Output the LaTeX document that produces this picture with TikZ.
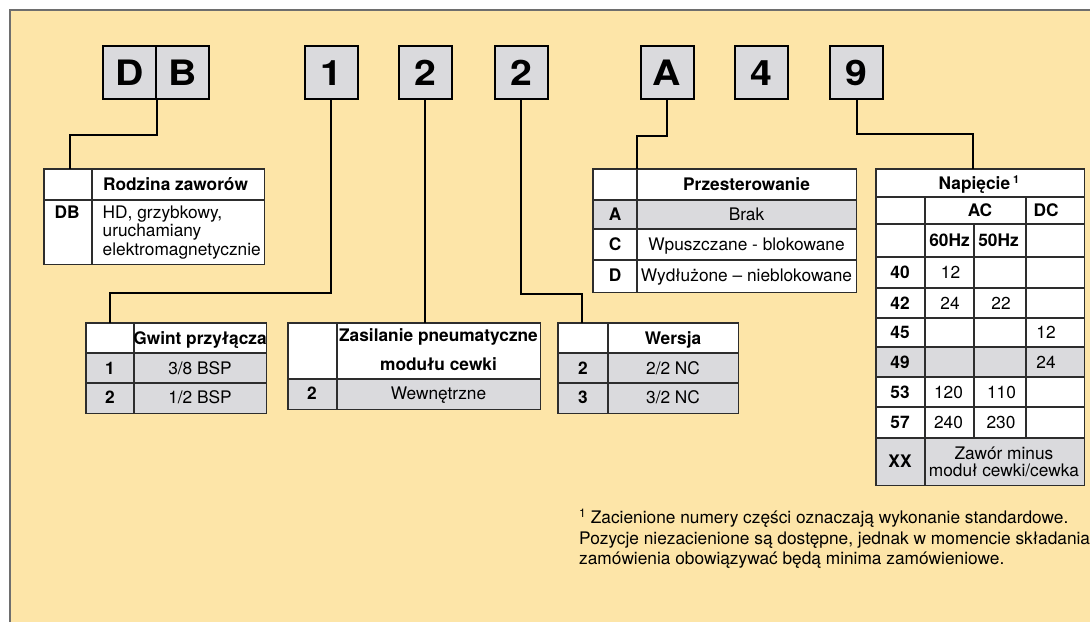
\documentclass[tikz,border=0pt]{standalone}
\usepackage{fontspec}
\setmainfont{TeX Gyre Heros}
\definecolor{bg}{RGB}{253,229,168}
\definecolor{cellgray}{RGB}{218,218,221}
\definecolor{tline}{RGB}{45,45,45}
\definecolor{frame}{RGB}{110,110,110}
\tikzset{
  codebox/.style={draw=black, line width=2pt, fill=cellgray, minimum width=53pt, minimum height=53pt,
    inner sep=0pt, text height=25pt, text depth=0pt, font=\fontsize{35}{35}\selectfont\bfseries},
  conn/.style={line width=2pt, draw=black},
  tblbg/.style={fill=white, inner sep=0pt, anchor=north west},
  tbl/.style={draw=tline, line width=1.3pt},
  grid/.style={draw=tline, line width=1.1pt},
  t/.style={inner sep=0pt, text height=12pt, text depth=0pt, font=\fontsize{17.3}{17}\selectfont},
  tb/.style={t, font=\fontsize{17.3}{17}\selectfont\bfseries},
  fn/.style={inner sep=0pt, anchor=base west, font=\fontsize{17.3}{17}\selectfont},
}
\newcommand{\supone}[2]{\raisebox{#1}{\fontsize{#2}{#2}\selectfont 1}}
\begin{document}
\begin{tikzpicture}[x=1pt, y=-1pt]
\useasboundingbox (0,0) rectangle (1090,622);
% background
\fill[bg] (10,10) rectangle (1090,622);
\draw[frame, line width=1.5pt] (10,622) -- (10,10) -- (1090,10);

% code boxes
\node[codebox] (bD) at (129.5,72.5) {\scalebox{1.12}[1]{D}};
\node[codebox] (bB) at (182.5,72.5) {\scalebox{1.12}[1]{B}};
\node[codebox] (b1) at (331,72.5) {\scalebox{1.12}[1]{1}};
\node[codebox] (b2a) at (425,72.5) {\scalebox{1.12}[1]{2}};
\node[codebox] (b2b) at (521,72.5) {\scalebox{1.12}[1]{2}};
\node[codebox] (bA) at (667,72.5) {\scalebox{1.12}[1]{A}};
\node[codebox] (b4) at (761,72.5) {\scalebox{1.12}[1]{4}};
\node[codebox] (b9) at (856.5,72.5) {\scalebox{1.12}[1]{9}};

% ---------- table DB ----------
\node[tblbg, minimum width=220pt, minimum height=95pt] (tDB) at (44,169) {};
\draw[grid] (44,200) -- (264,200);
\draw[grid] (92,169) -- (92,264);
\draw[tbl] (tDB.north west) rectangle (tDB.south east);
\node[tb, anchor=west] (hDB) at (103,184.5) {Rodzina zaworów};
\node[tb] (kDB) at (67,212) {DB};
\node[t, anchor=west] (vDB1) at (102.5,212) {HD, grzybkowy,};
\node[t, anchor=west] (vDB2) at (102.5,230.5) {uruchamiany};
\node[t, anchor=west] (vDB3) at (102.5,249) {elektromagnetycznie};

% ---------- table Gwint ----------
\node[tblbg, minimum width=180pt, minimum height=90pt] (tG) at (86,323) {};
\fill[cellgray] (86,353) rectangle (266,413);
\draw[grid] (86,353) -- (266,353);
\draw[grid] (86,383) -- (266,383);
\draw[grid] (134,323) -- (134,413);
\draw[tbl] (tG.north west) rectangle (tG.south east);
\node[tb] (hG) at (200,338) {Gwint przyłącza};
\node[tb] (kG1) at (110,368) {1};
\node[t] (vG1) at (200,368) {3/8 BSP};
\node[tb] (kG2) at (110,397.5) {2};
\node[t] (vG2) at (200,397.5) {1/2 BSP};

% ---------- table Zasilanie ----------
\node[tblbg, minimum width=252pt, minimum height=86pt] (tZ) at (288,323) {};
\fill[cellgray] (288,379) rectangle (540,409);
\draw[grid] (288,379) -- (540,379);
\draw[grid] (337,323) -- (337,409);
\draw[tbl] (tZ.north west) rectangle (tZ.south east);
\node[tb] (hZ1) at (438.5,335) {Zasilanie pneumatyczne};
\node[tb] (hZ2) at (438.5,364) {modułu cewki};
\node[tb] (kZ2) at (312,393.5) {2};
\node[t] (vZ2) at (438.5,393.5) {Wewnętrzne};

% ---------- table Wersja ----------
\node[tblbg, minimum width=180pt, minimum height=90pt] (tW) at (558,323) {};
\fill[cellgray] (558,353) rectangle (738,413);
\draw[grid] (558,353) -- (738,353);
\draw[grid] (558,383) -- (738,383);
\draw[grid] (608,323) -- (608,413);
\draw[tbl] (tW.north west) rectangle (tW.south east);
\node[tb] (hW) at (673,338) {Wersja};
\node[tb] (kW2) at (583,368) {2};
\node[t] (vW2) at (673,368) {2/2 NC};
\node[tb] (kW3) at (583,397.5) {3};
\node[t] (vW3) at (673,397.5) {3/2 NC};

% ---------- table Przesterowanie ----------
\node[tblbg, minimum width=263pt, minimum height=123pt] (tP) at (593,169) {};
\fill[cellgray] (593,200) rectangle (856,229);
\draw[grid] (593,200) -- (856,200);
\draw[grid] (593,229) -- (856,229);
\draw[grid] (593,260) -- (856,260);
\draw[grid] (637,169) -- (637,292);
\draw[tbl] (tP.north west) rectangle (tP.south east);
\node[tb] (hP) at (746.5,184.5) {Przesterowanie};
\node[tb] (kPA) at (615,214.5) {A};
\node[t] (vPA) at (746.5,214.5) {Brak};
\node[tb] (kPC) at (615,244.5) {C};
\node[t] (vPC) at (746.5,244.5) {Wpuszczane - blokowane};
\node[tb] (kPD) at (615,275) {D};
\node[t] (vPD) at (746.5,275) {Wydłużone – nieblokowane};

% ---------- table Napiecie ----------
\node[tblbg, minimum width=208pt, minimum height=316pt] (tN) at (876,169) {};
\fill[cellgray] (876,347) rectangle (1084,377);
\fill[cellgray] (876,438) rectangle (1084,485);
\foreach \yy in {197,224,257,288,318,347,377,407,438}
  \draw[grid] (876,\yy) -- (1084,\yy);
\draw[grid] (925,197) -- (925,485);
\draw[grid] (974,224) -- (974,438);
\draw[grid] (1026,197) -- (1026,438);
\draw[tbl] (tN.north west) rectangle (tN.south east);
\node[tb] (hN) at (979,183) {Napięcie\hspace{3pt}\supone{6pt}{11}};
\node[tb] (hAC) at (980,210.5) {AC};
\node[tb] (hDC) at (1046,210.5) {DC};
\node[tb] (h60) at (949.5,240.5) {60Hz};
\node[tb] (h50) at (998.5,240.5) {50Hz};
\node[tb] (k40) at (900,272.5) {40};
\node[t] (v40a) at (950.5,272.5) {12};
\node[tb] (k42) at (900,303) {42};
\node[t] (v42a) at (950,303) {24};
\node[t] (v42b) at (1001,303) {22};
\node[tb] (k45) at (900,332.5) {45};
\node[t] (v45c) at (1046,332.5) {12};
\node[tb] (k49) at (900,362) {49};
\node[t] (v49c) at (1046,362) {24};
\node[tb] (k53) at (900,392) {53};
\node[t] (v53a) at (948.5,392) {120};
\node[t] (v53b) at (1001.5,392) {110};
\node[tb] (k57) at (900,422.5) {57};
\node[t] (v57a) at (948.5,422.5) {240};
\node[t] (v57b) at (1001,422.5) {230};
\node[tb] (kXX) at (900,461.5) {XX};
\node[t] (vXX1) at (1004,453) {Zawór minus};
\node[t] (vXX2) at (1004,470) {moduł cewki/cewka};

% ---------- connectors ----------
\draw[conn] (bD.south east) -- ++(0,35) -| ([xshift=26pt]tDB.north west);
\draw[conn] (b1.south) -- ++(0,193) -| ([xshift=24pt]tG.north west);
\draw[conn] (b2a.south) -- (b2a.south |- tZ.north);
\draw[conn] (b2b.south) -- ++(0,194) -| ([xshift=24pt]tW.north west);
\draw[conn] (bA.south) -- ++(0,36) -| ([xshift=44pt]tP.north west);
\draw[conn] (b9.south) -- ++(0,34) -| ([xshift=97pt]tN.north west);

% ---------- footnote ----------
\node[fn] (fn1) at (579,523) {\supone{5.5pt}{12}\hspace{5pt}Zacienione numery części oznaczają wykonanie standardowe.};
\node[fn] (fn2) at (579,544) {Pozycje niezacienione są dostępne, jednak w momencie składania};
\node[fn] (fn3) at (579,564) {zamówienia obowiązywać będą minima zamówieniowe.};
\end{tikzpicture}
\end{document}
